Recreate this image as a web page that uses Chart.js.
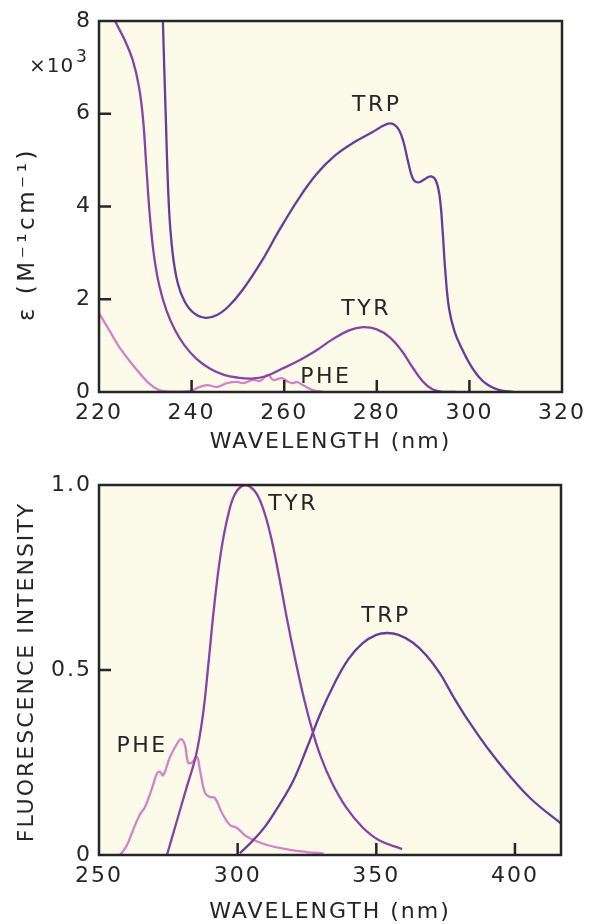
<!DOCTYPE html>
<html>
<head>
<meta charset="utf-8">
<title>Absorption and fluorescence spectra of TRP, TYR and PHE</title>
<script src="https://cdn.jsdelivr.net/npm/chart.js@4.4.1/dist/chart.umd.min.js"></script>
<style>
  html, body { margin: 0; padding: 0; background: #fff; overflow: hidden; }
  canvas { display: block; }
</style>
</head>
<body>
<canvas id="absChart" width="589" height="460"></canvas>
<canvas id="fluoChart" width="589" height="464"></canvas>
<script>
// ---- top panel: absorption, epsilon in 10^3 M-1 cm-1 ----
const absTrpNm  = [233.4, 233.8, 234.4, 235.1, 235.9, 237, 238.5, 240.5, 243, 245.5, 248, 251, 255, 259, 263, 267, 271, 275, 279, 282, 283.5, 284.8, 285.8, 286.8, 287.8, 289, 290.5, 291.8, 292.8, 293.6, 294.2, 294.8, 295.6, 296.8, 298.3, 300, 302, 304, 306.5, 309.5];
const absTrpEps = [9.5, 8.0, 6.0, 4.0, 3.0, 2.35, 1.95, 1.7, 1.6, 1.66, 1.85, 2.2, 2.8, 3.5, 4.15, 4.7, 5.1, 5.38, 5.6, 5.77, 5.78, 5.65, 5.38, 4.95, 4.6, 4.52, 4.6, 4.65, 4.55, 4.2, 3.5, 2.6, 1.8, 1.3, 0.95, 0.62, 0.33, 0.15, 0.04, 0];

const absTyrNm  = [221.5, 223.5, 225.5, 227.3, 228.6, 229.5, 230.2, 230.9, 231.8, 233, 234.6, 236.5, 238.5, 241, 244, 247, 250, 253, 256, 259.5, 263.4, 267, 270.5, 274, 277, 280, 282.8, 285.3, 287.6, 290, 292, 294.5, 297];
const absTyrEps = [8.5, 8.0, 7.6, 7.15, 6.6, 5.9, 4.9, 3.9, 3.0, 2.3, 1.75, 1.32, 1.0, 0.72, 0.5, 0.37, 0.31, 0.29, 0.34, 0.5, 0.69, 0.9, 1.14, 1.33, 1.4, 1.35, 1.18, 0.9, 0.55, 0.22, 0.06, 0, 0];

const absPheNm  = [220, 222.4, 224.5, 227, 229, 231, 233, 235, 238, 240, 241.5, 243.3, 245.5, 247.6, 249.8, 251.1, 253.3, 254.8, 256.5, 257.6, 259.5, 260.8, 261.9, 262.7, 264, 266.2, 268.4];
const absPheEps = [1.7, 1.3, 0.95, 0.62, 0.38, 0.17, 0.04, 0.01, 0.01, 0.03, 0.1, 0.15, 0.11, 0.19, 0.22, 0.19, 0.26, 0.24, 0.37, 0.26, 0.3, 0.22, 0.19, 0.22, 0.15, 0.04, 0];

const absXTicks = [220, 240, 260, 280, 300, 320];
const absYTicks = [0, 2, 4, 6, 8];

// ---- bottom panel: fluorescence, normalised intensity ----
const fluoTyrNm = [274.5, 278, 281.5, 285, 287.5, 289.5, 291.5, 293.8, 296.3, 299, 302.5, 306, 309, 312, 315, 318, 321, 324, 327, 330, 334, 339, 345, 351, 359.3];
const fluoTyrI  = [0, 0.09, 0.18, 0.27, 0.38, 0.52, 0.67, 0.81, 0.91, 0.975, 1.0, 0.985, 0.94, 0.86, 0.75, 0.63, 0.52, 0.42, 0.335, 0.265, 0.195, 0.13, 0.075, 0.04, 0.016];

const fluoTrpNm = [300.8, 305, 310, 315, 320, 325, 330, 335, 340, 345, 350, 354, 358, 363, 368, 373, 378, 383, 390, 398, 406, 416.6];
const fluoTrpI  = [0.005, 0.035, 0.078, 0.135, 0.2, 0.29, 0.385, 0.465, 0.53, 0.572, 0.595, 0.6, 0.595, 0.575, 0.54, 0.49, 0.425, 0.365, 0.29, 0.215, 0.15, 0.085];

const fluoPheNm = [257.6, 260, 262.3, 264.8, 266.6, 269.1, 270.9, 272, 273.1, 275.6, 278.1, 279.6, 281, 282.1, 283.5, 285.3, 286.4, 288.2, 290, 291.8, 294.4, 297.2, 299.8, 303.4, 310.6, 318.9, 325, 331];
const fluoPheI  = [0, 0.025, 0.068, 0.11, 0.13, 0.18, 0.22, 0.225, 0.215, 0.265, 0.3, 0.313, 0.297, 0.25, 0.25, 0.265, 0.23, 0.168, 0.157, 0.154, 0.113, 0.081, 0.073, 0.049, 0.027, 0.014, 0.008, 0.004];

const fluoXTicks = [250, 300, 350, 400];
const fluoYTicks = [0, 0.5, 1.0];
const fluoYTickLabels = ['0', '0.5', '1.0'];

const FONT = '"DejaVu Sans", sans-serif';
const INK = '#262626';
const TRP_COLOR = '#6b3a9c';
const TYR_COLOR = '#8942a5';
const PHE_COLOR = '#d583c9';

const zip = (xs, ys) => xs.map((x, i) => ({ x, y: ys[i] }));

function series(label, xs, ys, color) {
  return {
    label, data: zip(xs, ys),
    borderColor: color, borderWidth: 2.3,
    pointRadius: 0, tension: 0.4, fill: false
  };
}

// cream plot area, box frame, inward ticks, curve labels and axis titles
const spectrumDecor = {
  id: 'spectrumDecor',
  beforeDraw(chart) {
    const { ctx, chartArea: a } = chart;
    ctx.save();
    ctx.fillStyle = '#fcfae9';
    ctx.fillRect(a.left, a.top, a.right - a.left, a.bottom - a.top);
    ctx.restore();
    ctx.letterSpacing = '2px';
  },
  afterDraw(chart, args, opts) {
    const { ctx, chartArea: a, scales } = chart;
    const sx = scales.x, sy = scales.y;
    ctx.save();
    ctx.strokeStyle = INK;
    ctx.lineWidth = 2.5;
    ctx.strokeRect(a.left, a.top, a.right - a.left, a.bottom - a.top);

    ctx.beginPath();
    sx.ticks.forEach(t => {
      const px = sx.getPixelForValue(t.value);
      if (px < a.left + 2 || px > a.right - 2) return;
      ctx.moveTo(px, a.bottom);
      ctx.lineTo(px, a.bottom - 12);
    });
    sy.ticks.forEach(t => {
      const py = sy.getPixelForValue(t.value);
      if (py < a.top + 2 || py > a.bottom - 2) return;
      ctx.moveTo(a.left, py);
      ctx.lineTo(a.left + 12, py);
    });
    ctx.stroke();

    ctx.fillStyle = INK;
    ctx.font = '22px ' + FONT;
    ctx.letterSpacing = '2.5px';
    ctx.textAlign = 'center';
    ctx.textBaseline = 'middle';
    opts.labels.forEach(l => {
      ctx.fillText(l.text, sx.getPixelForValue(l.x), sy.getPixelForValue(l.y));
    });

    ctx.letterSpacing = '2px';
    ctx.fillText(opts.xTitle, (a.left + a.right) / 2, opts.xTitleY);

    ctx.save();
    ctx.translate(opts.yTitleX, opts.yTitleY);
    ctx.rotate(-Math.PI / 2);
    ctx.font = (opts.yTitleSize || 22) + 'px ' + FONT;
    ctx.letterSpacing = (opts.yTitleSpacing || 2) + 'px';
    ctx.fillText(opts.yTitle, 0, 0);
    ctx.restore();

    if (opts.multiplier) {
      ctx.textAlign = 'left';
      ctx.textBaseline = 'alphabetic';
      ctx.letterSpacing = '1px';
      ctx.font = '20px ' + FONT;
      ctx.fillText('×10', 29, 72);
      ctx.font = '17px ' + FONT;
      ctx.fillText('3', 76, 62);
    }
    ctx.restore();
  }
};

function axis(min, max, tickValues, pad, size, callback) {
  return {
    type: 'linear', min, max,
    grid: { display: false, drawTicks: false },
    border: { display: false },
    afterBuildTicks: s => { s.ticks = tickValues.map(v => ({ value: v })); },
    afterFit: s => {
      if (s.isHorizontal()) { s.height = size; s.paddingLeft = 0; s.paddingRight = 0; }
      else { s.width = size; s.paddingTop = 0; s.paddingBottom = 0; }
    },
    ticks: {
      color: INK, padding: pad, maxRotation: 0, autoSkip: false,
      font: { family: FONT, size: 22 },
      callback: callback || (v => String(v))
    }
  };
}

new Chart(document.getElementById('absChart'), {
  type: 'line',
  data: {
    datasets: [
      series('TRP', absTrpNm, absTrpEps, TRP_COLOR),
      series('TYR', absTyrNm, absTyrEps, TYR_COLOR),
      series('PHE', absPheNm, absPheEps, PHE_COLOR)
    ]
  },
  options: {
    responsive: false,
    animation: false,
    layout: { padding: { top: 21, right: 27, bottom: 0, left: 0 } },
    scales: {
      x: axis(220, 320, absXTicks, 8, 68),
      y: axis(0, 8, absYTicks, 7, 99)
    },
    plugins: {
      legend: { display: false },
      tooltip: { enabled: false },
      spectrumDecor: {
        labels: [
          { text: 'TRP', x: 280, y: 6.19 },
          { text: 'TYR', x: 277.7, y: 1.79 },
          { text: 'PHE', x: 269, y: 0.32 }
        ],
        xTitle: 'WAVELENGTH (nm)', xTitleY: 442,
        yTitle: 'ε (M⁻¹cm⁻¹)', yTitleX: 28, yTitleY: 234,
        yTitleSize: 23, yTitleSpacing: 3.5,
        multiplier: true
      }
    }
  },
  plugins: [spectrumDecor]
});

new Chart(document.getElementById('fluoChart'), {
  type: 'line',
  data: {
    datasets: [
      series('TYR', fluoTyrNm, fluoTyrI, TYR_COLOR),
      series('TRP', fluoTrpNm, fluoTrpI, TRP_COLOR),
      series('PHE', fluoPheNm, fluoPheI, PHE_COLOR)
    ]
  },
  options: {
    responsive: false,
    animation: false,
    layout: { padding: { top: 25, right: 28, bottom: 0, left: 0 } },
    scales: {
      x: axis(250, 416.6, fluoXTicks, 8, 69),
      y: axis(0, 1, fluoYTicks, 7, 99, (v, i) => fluoYTickLabels[i])
    },
    plugins: {
      legend: { display: false },
      tooltip: { enabled: false },
      spectrumDecor: {
        labels: [
          { text: 'TYR', x: 320, y: 0.949 },
          { text: 'TRP', x: 353.5, y: 0.646 },
          { text: 'PHE', x: 265.5, y: 0.295 }
        ],
        xTitle: 'WAVELENGTH (nm)', xTitleY: 452,
        yTitle: 'FLUORESCENCE INTENSITY', yTitleX: 27, yTitleY: 212
      }
    }
  },
  plugins: [spectrumDecor]
});
</script>
</body>
</html>
